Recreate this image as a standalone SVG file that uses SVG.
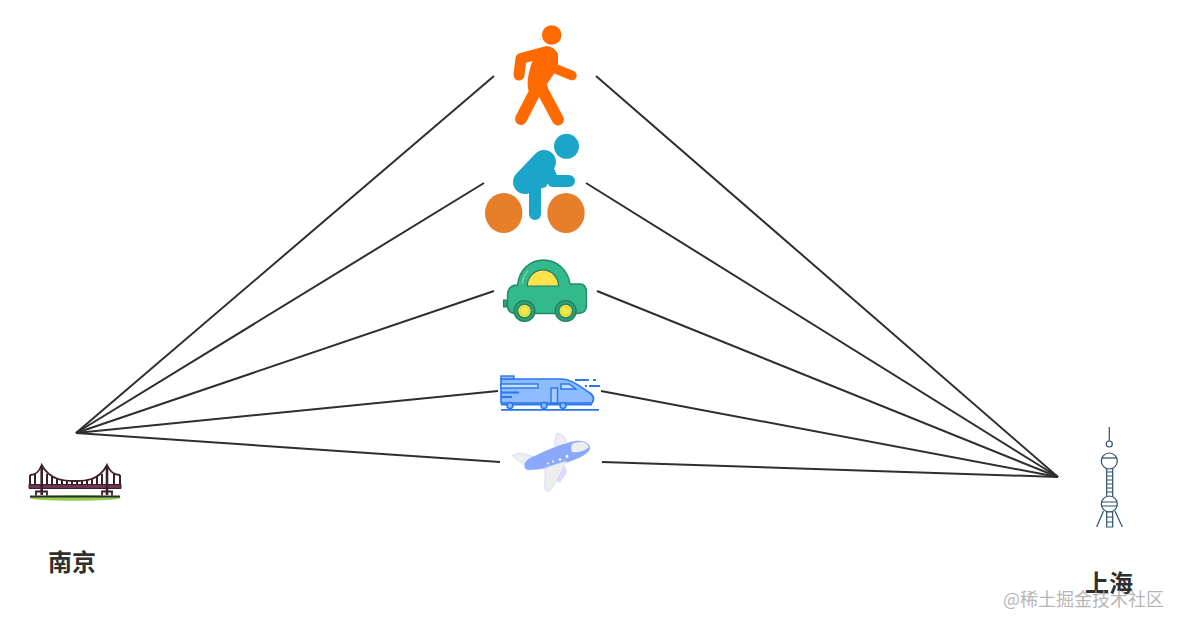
<svg xmlns="http://www.w3.org/2000/svg" width="1183" height="630" viewBox="0 0 1183 630">
<style>
.conn{stroke:#2e2e2e;stroke-width:2;fill:none}
.label{font-family:"Noto Sans CJK SC","Liberation Sans",sans-serif;font-size:24px;font-weight:700;fill:#2f2f2f;text-anchor:middle}
.wm{font-family:"Noto Sans CJK SC","Liberation Sans",sans-serif;font-size:18px;fill:#a8a8a8;fill-opacity:.85}
.walk{stroke:#ff6a00;fill:none;stroke-linecap:round;stroke-linejoin:round}
.cyc{stroke:#1ba6c9;fill:none;stroke-linecap:round;stroke-linejoin:round}
.tw{stroke:#2f4f6f;stroke-width:1.2;fill:#fff}
.br{stroke:#3a1f2c;fill:none}
.tr{stroke:#2a75f0;stroke-width:1.8;fill:none}
</style>
<rect width="1183" height="630" fill="#fff"/>
<g id="connectors">
<line class="conn" x1="76" y1="433" x2="494" y2="76"/>
<line class="conn" x1="76" y1="433" x2="484" y2="183"/>
<line class="conn" x1="76" y1="433" x2="494" y2="291"/>
<line class="conn" x1="76" y1="433" x2="498" y2="391"/>
<line class="conn" x1="76" y1="433" x2="500" y2="462"/>
<line class="conn" x1="1058" y1="477" x2="596" y2="76"/>
<line class="conn" x1="1058" y1="477" x2="586" y2="183"/>
<line class="conn" x1="1058" y1="477" x2="597" y2="291"/>
<line class="conn" x1="1058" y1="477" x2="601" y2="391"/>
<line class="conn" x1="1058" y1="477" x2="602" y2="462"/>
</g>
<g id="walk">
<circle cx="551.7" cy="35" r="9.8" fill="#ff6a00"/>
<path class="walk" stroke-width="11" d="M519 75L521 58.500L545 52"/>
<path class="walk" stroke-width="9.500" d="M552 66L556 69L572 75.500"/>
<path d="M536 52L546 46C552 46 556 50 558 54L558 68L547 84L549 92L529 92C525 82 530 66 536 52Z" fill="#ff6a00"/>
<path class="walk" stroke-width="12" d="M537 88L521 119M540 86L558 119.500"/>
</g>
<g id="bike">
<circle cx="566.500" cy="146.300" r="12.500" fill="#1ba6c9"/>
<ellipse cx="503.700" cy="213" rx="18.700" ry="20" fill="#e67e2a"/>
<ellipse cx="566" cy="213" rx="18.700" ry="20" fill="#e67e2a"/>
<path class="cyc" stroke-width="24" d="M544 162L525 182"/>
<path class="cyc" stroke-width="12" d="M535 186V214"/>
<path class="cyc" stroke-width="12" d="M548 170L553 181H569"/>
<path d="M530 192L546 187L552 175L545 160L530 172Z" fill="#1ba6c9"/>
</g>
<g id="car">
<rect x="503.500" y="300" width="5" height="7" fill="#2f9d78" stroke="#1f7d5e"/>
<path d="M507.500 296C507.500 288 511 285 517.500 285C519 270 530 260 543.500 260C557 260 568 270 570 284H580C585 284 586.500 288 586.500 293V305C586.500 311 583 313.500 578 313.500H516C510 313.500 507.500 311 507.500 305Z" fill="#33b98c" stroke="#1f8a68" stroke-width="1.400"/>
<path d="M527.300 286A15.500 16 0 0 1 558.500 286Z" fill="#ffe14d" stroke="#1f7d5e" stroke-width="1.200"/>
<path d="M522 284C523 278 525 274 528 271" stroke="#8fe0c4" stroke-width="1" fill="none"/>
<g stroke="#1f7d5e" stroke-width="1.200">
<circle cx="524.500" cy="311" r="10.500" fill="#2f9d78"/>
<circle cx="524.500" cy="311" r="6.800" fill="#f2e84a"/>
<circle cx="565.700" cy="311" r="10.500" fill="#2f9d78"/>
<circle cx="565.700" cy="311" r="6.800" fill="#f2e84a"/>
</g>
<g fill="none" stroke="#c9b92e" stroke-width=".8" stroke-dasharray="1.500 1">
<circle cx="524.500" cy="311" r="4.500"/>
<circle cx="565.700" cy="311" r="4.500"/>
</g>
</g>
<g id="train">
<path d="M501 379H561C572 379 582 388 590 393C594 396 594 400 592 403H501Z" fill="#8fbcff" stroke="#2a75f0" stroke-width="1.600"/>
<rect x="501" y="376" width="13" height="3" fill="#94bffa" stroke="#2a75f0" stroke-width="1.400"/>
<rect x="501" y="384" width="37" height="4" fill="#c6ddfd" stroke="#2a75f0" stroke-width="1.400"/>
<path d="M561 384H569L576 389H561Z" fill="#c6ddfd" stroke="#2a75f0" stroke-width="1.400"/>
<rect x="551" y="388" width="6.500" height="15" fill="#a9ccfb" stroke="#2a75f0" stroke-width="1.400"/>
<path class="tr" d="M501 392.500H519M501 397H512M575 380H589M593 380H596M589 386H600M585 386H587M501 409.800H599M501 404.500H592"/>
<g fill="#8fbcff" stroke="#2a75f0" stroke-width="1.500">
<circle cx="510" cy="405.500" r="3"/>
<circle cx="544" cy="405.500" r="3"/>
<circle cx="563" cy="405.500" r="3"/>
</g>
</g>
<g id="plane">
<path d="M555 480L564 465L567 470L560 483Z" fill="#e4d8fa"/>
<path d="M556 473L566 468L567 473L562 480Z" fill="#e4d8fa"/>
<path d="M554 445L557 433C560 433 565 437 567 441L559 447Z" fill="#eeeeee" stroke="#c4d6fb" stroke-width=".8"/>
<path d="M512.500 455.500L520 453C526 454 532 456 535 458L529 466C523 464 516 460 512.500 455.500Z" fill="#eeeeee" stroke="#c4d6fb" stroke-width=".8"/>
<path d="M530 458C545 451 560 444 575 441C585 440 591 444 590 449C588 455 575 460 565 463C555 467 540 470 528 470C522 469 524 461 530 458Z" fill="#8aa9fb"/>
<path d="M572 444C578 441 587 441 589 447C585 451 578 453 572 452C571 449 571 447 572 444Z" fill="#eeeeee"/>
<path d="M545 468L566 461C562 470 558 482 549 491C547 492 546 491 545 489Z" fill="#eeeeee" stroke="#c4d6fb" stroke-width=".8"/>
<g fill="#fff"><circle cx="548" cy="463.500" r="1"/><circle cx="553" cy="461.500" r="1"/><circle cx="560" cy="459.500" r="1.200"/><circle cx="567" cy="456.500" r="1.400"/></g>
</g>
<g id="nanjing">
<ellipse cx="75" cy="498" rx="46" ry="2.800" fill="#8fd14f"/>
<path d="M30 496.500H120" stroke="#2f2a2a" stroke-width="2"/>
<path class="br" stroke-width="1.800" d="M30 475C36 475 39 472 41.700 465C50 481 66 481 75 481C84 481 99 481 107 465C110 472 114 475 120 475"/>
<path class="br" stroke-width="2" d="M30 475V485M35 474V485M47 474V485M52 477V485M57 479V485M62 480V485M67 481V485M72 481V485M77 481V485M82 481V485M87 480V485M92 479V485M97 477V485M102 474V485M114 474V485M120 475V485"/>
<path d="M29 484.500H121V488.500H29Z" fill="#6d3550" stroke="#3a1f2c" stroke-width="1"/>
<path class="br" stroke-width="2.600" d="M41.700 466V495M107 466V495"/>
<path class="br" stroke-width="1.800" d="M36 495.500V491.500H47V495.500M102 495.500V491.500H112V495.500"/>
<text class="label" x="72" y="571">南京</text>
</g>
<g id="shanghai">
<path d="M1109.300 427V441" class="tw"/>
<circle class="tw" cx="1109.300" cy="444" r="3"/>
<path class="tw" d="M1106.700 468H1112.700V497H1106.700ZM1106.700 472H1112.700M1106.700 476H1112.700M1106.700 480H1112.700M1106.700 484H1112.700M1106.700 488H1112.700M1106.700 492H1112.700"/>
<circle class="tw" cx="1109.300" cy="461" r="8"/>
<path class="tw" d="M1102 458H1116.500" fill="none"/>
<circle class="tw" cx="1109.300" cy="504" r="8"/>
<path class="tw" fill="none" d="M1101.500 502H1117M1101.500 506H1117"/>
<path class="tw" d="M1106.700 512H1112.700V527H1106.700ZM1106.700 517H1112.700M1106.700 522H1112.700"/>
<path class="tw" fill="none" d="M1103.500 511L1096.700 527M1115 511L1122.300 527"/>
<text class="label" x="1109" y="592">上海</text>
</g>
<text class="wm" x="1003" y="606">@稀土掘金技术社区</text>
</svg>
